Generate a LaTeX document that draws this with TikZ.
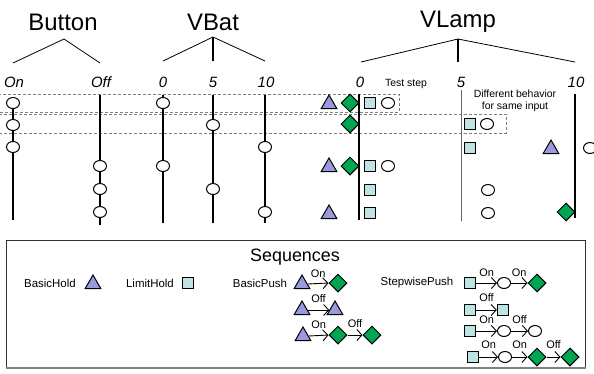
\documentclass[tikz,border=0pt]{standalone}
\usepackage{fontspec}
\setmainfont{Liberation Sans}
\usetikzlibrary{shapes.geometric,arrows.meta}
\definecolor{triC}{HTML}{9999DD}
\definecolor{sqC}{HTML}{BFE3E3}
\definecolor{diaC}{HTML}{00A550}
\tikzset{
  circ/.style={ellipse,draw,fill=white,line width=1bp,minimum width=13bp,minimum height=11bp,inner sep=0pt},
  tri/.style={regular polygon,regular polygon sides=3,draw,fill=triC,line width=1bp,minimum size=18bp,inner sep=0pt},
  sq/.style={rectangle,draw,fill=sqC,line width=1bp,minimum size=11.5bp,inner sep=0pt},
  dia/.style={diamond,draw,fill=diaC,line width=1bp,minimum size=18bp,inner sep=0pt},
  title/.style={font=\fontsize{24}{26}\selectfont,inner sep=0pt},
  val/.style={font=\fontsize{15}{17}\selectfont\itshape,inner sep=0pt},
  small/.style={font=\fontsize{10.5}{12}\selectfont,inner sep=0pt},
  leg/.style={font=\fontsize{11.5}{13}\selectfont,inner sep=0pt},
  lab/.style={font=\fontsize{11}{12}\selectfont,inner sep=0pt},
  tree/.style={line width=0.8bp},
  axis/.style={line width=2bp},
  sepline/.style={gray,dashed,dash pattern=on 3bp off 2bp,line width=0.8bp},
  seq/.style={line width=0.9bp,-{Straight Barb[length=5bp,width=11bp]}},
}
\begin{document}
\begin{tikzpicture}[x=1bp,y=-1bp]
\useasboundingbox (0,0) rectangle (594,373);
% titles
\node[title] (tB) at (63,22) {Button};
\node[title] (tV) at (213,22) {VBat};
\node[title] (tL) at (458,22) {VLamp};
% trees
\coordinate (bA) at (64,39); \coordinate (bL) at (13,63); \coordinate (bR) at (100,63);
\draw[tree] (bL) -- (bA) -- (bR);
\coordinate (vA) at (213,37); \coordinate (vL) at (163,61); \coordinate (vM) at (213,61); \coordinate (vR) at (265,61);
\draw[tree] (vL) -- (vA) -- (vR);
\draw[axis] (vA) -- (vM);
\coordinate (lA) at (458,39); \coordinate (lL) at (361,62); \coordinate (lM) at (458,62); \coordinate (lR) at (575,62);
\draw[tree] (lL) -- (lA) -- (lR);
\draw[axis] (lA) -- (lM);
% value labels
\node[val] (vOn) at (14,82) {On};
\node[val] (vOff) at (101,82) {Off};
\node[val] (v0) at (163,82) {0};
\node[val] (v5) at (213,82) {5};
\node[val] (v10) at (266,82) {10};
\node[val] (l0) at (360,82) {0};
\node[val] (l5) at (461,82) {5};
\node[val] (l10) at (576,82) {10};
% dashed rectangles
\draw[sepline] (-2,94) rectangle (399,112);
\draw[sepline] (-2,114) rectangle (506,133);
% vertical lines
\coordinate (aOnT) at (13,97); \coordinate (aOnB) at (13,220);
\coordinate (aOffT) at (100,95); \coordinate (aOffB) at (100,225);
\coordinate (a0T) at (163,95); \coordinate (a0B) at (163,223);
\coordinate (a5T) at (213,95); \coordinate (a5B) at (213,223);
\coordinate (a10T) at (265,95); \coordinate (a10B) at (265,223);
\coordinate (m0T) at (359,94); \coordinate (m0B) at (359,220);
\coordinate (m5T) at (461,90); \coordinate (m5B) at (461,221);
\coordinate (m10T) at (575,94); \coordinate (m10B) at (575,218);
\draw[axis] (aOnT) -- (aOnB);
\draw[axis] (aOffT) -- (aOffB);
\draw[axis] (a0T) -- (a0B);
\draw[axis] (a5T) -- (a5B);
\draw[axis] (a10T) -- (a10B);
\draw[axis] (m0T) -- (m0B);
\draw[line width=1bp,black!60] (m5T) -- (m5B);
\draw[axis] (m10T) -- (m10B);
% input circles
\node[circ] (c1) at (13,103) {};
\node[circ] (c2) at (13,125) {};
\node[circ] (c3) at (13,147) {};
\node[circ] (c4) at (100,166) {};
\node[circ] (c5) at (100,189) {};
\node[circ] (c6) at (100,212) {};
\node[circ] (c7) at (163,103) {};
\node[circ] (c8) at (163,166) {};
\node[circ] (c9) at (213,125) {};
\node[circ] (c10) at (213,189) {};
\node[circ] (c11) at (265,147) {};
\node[circ] (c12) at (265,212) {};
% VLamp shapes
\node[tri] (r1t) at (329,104) {};
\node[dia] (r1d) at (350,103) {};
\node[sq] (r1s) at (370,103) {};
\node[circ] (r1c) at (388,103) {};
\node[dia] (r2d) at (350,124) {};
\node[sq] (r2s) at (470,124) {};
\node[circ] (r2c) at (487,124) {};
\node[sq] (r3s) at (470,148) {};
\node[tri] (r3t) at (551,149) {};
\node[circ] (r3c) at (590,148) {};
\node[tri] (r4t) at (329,167) {};
\node[dia] (r4d) at (350,166) {};
\node[sq] (r4s) at (370,166) {};
\node[circ] (r4c) at (388,166) {};
\node[sq] (r5s) at (370,190) {};
\node[circ] (r5c) at (488,190) {};
\node[tri] (r6t) at (329,214) {};
\node[sq] (r6s) at (370,213) {};
\node[circ] (r6c) at (488,213) {};
\node[dia] (r6d) at (566,212) {};
% annotations
\node[small] (ts) at (406,84) {Test step};
\node[small,align=center] (db) at (515,101) {Different behavior\\for same input};
% legend
\draw[line width=0.9bp,black!80] (6,240) rectangle (585,367);
\draw[line width=1.5bp,gray] (6,368) -- (586,368);
\node[font=\fontsize{18}{20}\selectfont,inner sep=0pt] (seqT) at (295,257) {Sequences};
\node[leg] (bh) at (50,283) {BasicHold};
\node[tri] (bht) at (93,284) {};
\node[leg] (lh) at (150,283) {LimitHold};
\node[sq] (lhs) at (188,283) {};
\node[leg] (bp) at (260,283) {BasicPush};
\node[leg] (sp) at (417,283) {StepwisePush};
% BasicPush sequences
\node[tri] (p1a) at (302,284) {};
\node[dia] (p1b) at (338,283) {};
\draw[seq] (p1a.east) -- (p1b.west) node[lab,midway,yshift=10bp] {On};
\node[tri] (p2a) at (302,310) {};
\node[tri] (p2b) at (335,310) {};
\draw[seq] (p2a.east) -- (p2b.west) node[lab,midway,yshift=11bp] {Off};
\node[tri] (p3a) at (303,336) {};
\node[dia] (p3b) at (338,335) {};
\node[dia] (p3c) at (372,335) {};
\draw[seq] (p3a.east) -- (p3b.west) node[lab,midway,yshift=11bp] {On};
\draw[seq] (p3b.east) -- (p3c.west) node[lab,midway,yshift=11bp] {Off};
% StepwisePush sequences
\node[sq] (s1a) at (470,283) {};
\node[circ] (s1b) at (504,283) {};
\node[dia] (s1c) at (537,283) {};
\draw[seq] (s1a.east) -- (s1b.west) node[lab,midway,yshift=10bp] {On};
\draw[seq] (s1b.east) -- (s1c.west) node[lab,midway,yshift=10bp] {On};
\node[sq] (s2a) at (470,310) {};
\node[sq] (s2b) at (503,310) {};
\draw[seq] (s2a.east) -- (s2b.west) node[lab,midway,yshift=12bp] {Off};
\node[sq] (s3a) at (470,331) {};
\node[circ] (s3b) at (504,331) {};
\node[circ] (s3c) at (535,331) {};
\draw[seq] (s3a.east) -- (s3b.west) node[lab,midway,yshift=11bp] {On};
\draw[seq] (s3b.east) -- (s3c.west) node[lab,midway,yshift=11bp] {Off};
\node[sq] (s4a) at (473,357) {};
\node[circ] (s4b) at (505,357) {};
\node[dia] (s4c) at (537,357) {};
\node[dia] (s4d) at (570,357) {};
\draw[seq] (s4a.east) -- (s4b.west) node[lab,midway,yshift=12bp] {On};
\draw[seq] (s4b.east) -- (s4c.west) node[lab,midway,yshift=12bp] {On};
\draw[seq] (s4c.east) -- (s4d.west) node[lab,midway,yshift=12bp] {Off};
\end{tikzpicture}
\end{document}
